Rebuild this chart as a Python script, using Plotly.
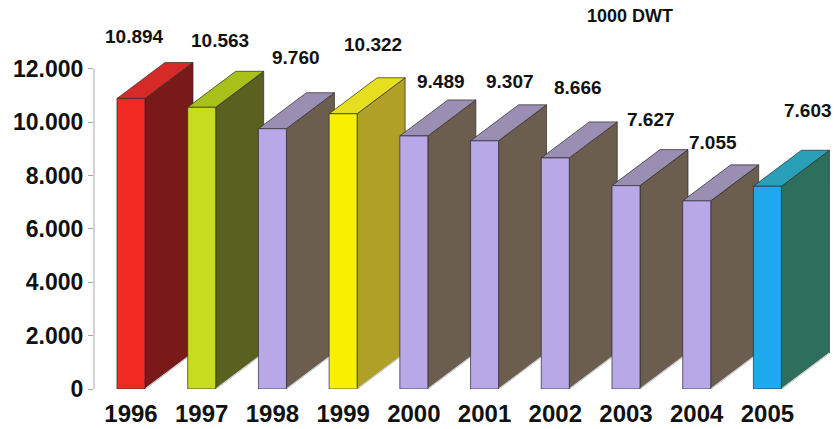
import plotly.graph_objects as go

# ---- data ----
years = ["1996", "1997", "1998", "1999", "2000", "2001", "2002", "2003", "2004", "2005"]
values = [10894, 10563, 9760, 10322, 9489, 9307, 8666, 7627, 7055, 7603]
unit_label = "1000 DWT"
y_ticks = [0, 2000, 4000, 6000, 8000, 10000, 12000]

# ---- styling ----
front_colors = ["#F02A22", "#C8DC1E", "#B8A8E8", "#F8F000", "#B8A8E8",
                "#B8A8E8", "#B8A8E8", "#B8A8E8", "#B8A8E8", "#1EA8F0"]
top_colors = ["#D62A28", "#A8C01A", "#9A8EB2", "#E6DE1E", "#9A8EB2",
              "#9A8EB2", "#9A8EB2", "#9A8EB2", "#9A8EB2", "#2AA0B8"]
side_colors = ["#7A1A18", "#5A6020", "#6B5E4E", "#B0A028", "#6B5E4E",
               "#6B5E4E", "#6B5E4E", "#6B5E4E", "#6B5E4E", "#2E6E5C"]
label_shift_px = [(4, 62), (18, 67), (24, 71), (30, 69), (27, 54),
                  (25, 59), (23, 70), (25, 66), (16, 58), (41, 76)]

BAR_W = 0.396      # front face width (x units)
DEPTH_X = 0.679    # depth offset in x units
DEPTH_Y = 1350     # depth offset in y units

FONT = "Liberation Sans, Arial"

def de_fmt(v):
    return f"{v:,}".replace(",", ".")

fig = go.Figure()
outline = dict(color="#2a2a2a", width=0.7)

for i, v in enumerate(values):
    xl, xr = i - BAR_W / 2, i + BAR_W / 2
    # side face
    fig.add_trace(go.Scatter(
        x=[xr, xr + DEPTH_X, xr + DEPTH_X, xr, xr],
        y=[0, DEPTH_Y, v + DEPTH_Y, v, 0],
        fill="toself", fillcolor=side_colors[i], mode="lines",
        line=outline, hoverinfo="skip", showlegend=False))
    # bottom highlight of side face
    fig.add_trace(go.Scatter(
        x=[xr, xr + DEPTH_X], y=[0, DEPTH_Y], mode="lines",
        line=dict(color="#d8d8d8", width=1.2), hoverinfo="skip", showlegend=False))
    # top face
    fig.add_trace(go.Scatter(
        x=[xl, xl + DEPTH_X, xr + DEPTH_X, xr, xl],
        y=[v, v + DEPTH_Y, v + DEPTH_Y, v, v],
        fill="toself", fillcolor=top_colors[i], mode="lines",
        line=outline, hoverinfo="skip", showlegend=False))
    # front face
    fig.add_trace(go.Scatter(
        x=[xl, xr, xr, xl, xl],
        y=[0, 0, v, v, 0],
        fill="toself", fillcolor=front_colors[i], mode="lines",
        line=outline, hoverinfo="skip", showlegend=False))
    # value label
    dxp, dyp = label_shift_px[i]
    fig.add_annotation(x=i, y=v, text=de_fmt(v), showarrow=False,
                       xanchor="center", yanchor="middle",
                       xshift=dxp, yshift=dyp,
                       font=dict(family=FONT, size=19,
                                 color="#111111", weight="bold"))

fig.add_annotation(xref="paper", yref="paper", x=0.722, y=0.96,
                   text=unit_label, showarrow=False,
                   xanchor="center", yanchor="middle",
                   font=dict(family=FONT, size=18,
                             color="#111111", weight="bold"))

# y axis line (only from 0 to 12000)
fig.add_shape(type="line", xref="paper", yref="y", x0=0, x1=0,
              y0=0, y1=max(y_ticks), line=dict(color="#a8a8a8", width=1))

fig.update_layout(
    width=836, height=429,
    margin=dict(l=94, r=0, t=0, b=40),
    paper_bgcolor="white", plot_bgcolor="white",
    xaxis=dict(range=[-0.523, 9.97], tickmode="array",
               tickvals=list(range(len(years))), ticktext=years,
               showgrid=False, zeroline=False, showline=False,
               ticks="", ticklabelstandoff=8,
               tickfont=dict(family=FONT, size=24,
                             color="#111111", weight="bold")),
    yaxis=dict(range=[0, 14587], tickmode="array", tickvals=y_ticks,
               ticktext=[de_fmt(t) for t in y_ticks],
               showgrid=False, zeroline=False, showline=False,
               ticks="outside", ticklen=5, tickcolor="#a8a8a8",
               tickfont=dict(family=FONT, size=23,
                             color="#111111", weight="bold")),
)

fig.write_html("out.html")
